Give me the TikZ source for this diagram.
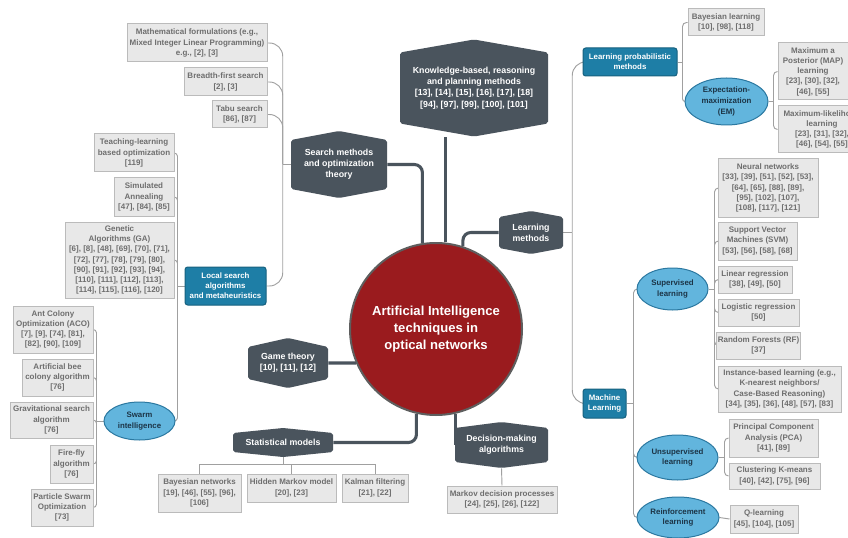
\documentclass[tikz,border=0pt]{standalone}
\usepackage{fontspec}
\setmainfont{Liberation Sans}
\usetikzlibrary{shapes.geometric}
\definecolor{hexc}{HTML}{4A545D}
\definecolor{tealc}{HTML}{1E7EA6}
\definecolor{tealb}{HTML}{17617F}
\definecolor{ellc}{HTML}{62B5DD}
\definecolor{ellb}{HTML}{2B78A0}
\definecolor{elltxt}{HTML}{1C3446}
\definecolor{boxf}{HTML}{E8E8E8}
\definecolor{boxb}{HTML}{BBBBBB}
\definecolor{boxt}{HTML}{6E6E6E}
\definecolor{redc}{HTML}{9A1B1E}
\definecolor{circb}{HTML}{5E5E5E}
\definecolor{linec}{HTML}{A0A0A0}
\pgfdeclarelayer{bg}
\pgfsetlayers{bg,main}
\tikzset{
  sz/.style 2 args={minimum width=#1*0.75pt, minimum height=#2*0.75pt},
  gbox/.style={draw=boxb, fill=boxf, line width=0.75pt, text=boxt, align=center,
    font=\fontsize{6}{7.7}\selectfont\bfseries, inner sep=1pt},
  tbox/.style={draw=tealb, fill=tealc, line width=0.75pt, rounded corners=2pt, text=white,
    align=center, font=\fontsize{5.9}{7.5}\selectfont\bfseries, inner sep=1pt},
  ell/.style={ellipse, draw=ellb, fill=ellc, line width=0.75pt, text=elltxt, align=center,
    font=\fontsize{5.9}{8}\selectfont\bfseries, inner sep=0pt},
  hextxt/.style={text=white, align=center, font=\fontsize{6.6}{8.4}\selectfont\bfseries, inner sep=0pt},
  conn/.style={draw=linec, line width=0.7pt, rounded corners=8pt},
  mainc/.style={draw=hexc, line width=2.3pt, rounded corners=6pt},
}
\newcommand{\hexnode}[7]{%
  \fill[hexc, rounded corners=1.5pt] (#2-#4/2,#3-#5/2+#6) -- (#2,#3-#5/2) -- (#2+#4/2,#3-#5/2+#6)
    -- (#2+#4/2,#3+#5/2-#6) -- (#2,#3+#5/2) -- (#2-#4/2,#3+#5/2-#6) -- cycle;
  \node[hextxt, sz={#4}{#5}] (#1) at (#2,#3) {#7};}
\begin{document}
\begin{tikzpicture}[x=0.75pt,y=-0.75pt]
\useasboundingbox (0,0) rectangle (848,538);
\clip (0,0) rectangle (848,538);

% central circle
\node[circle, fill=redc, draw=circb, line width=1.5pt, minimum size=172*0.75pt, inner sep=0pt,
  text=white, align=center, font=\fontsize{9.8}{12.75}\selectfont\bfseries] (ai) at (436,329)
  {Artificial Intelligence\\techniques in\\optical networks};

% hexagons
\hexnode{know}{474}{88}{148}{97}{13}{Knowledge-based, reasoning\\and planning methods\\{[13], [14], [15], [16], [17], [18]}\\{[94], [97], [99], [100], [101]}}
\hexnode{srch}{339}{164.5}{96}{67}{9}{Search methods\\and optimization\\theory}
\hexnode{lm}{531}{232.5}{64}{43}{6}{Learning\\methods}
\hexnode{gt}{288}{363}{80}{50}{9}{Game theory\\{[10], [11], [12]}}
\hexnode{stat}{283}{442.5}{100}{29}{5}{Statistical models}
\hexnode{dec}{501.5}{445}{93}{46}{6}{Decision-making\\algorithms}

% teal boxes
\node[tbox, sz={81}{38}] (ls) at (225.5,286) {Local search\\algorithms\\and metaheuristics};
\node[tbox, sz={94}{28}] (lpm) at (630,62) {Learning probabilistic\\methods};
\node[tbox, sz={43}{29}] (ml) at (604.5,403.5) {Machine\\Learning};

% ellipses
\node[ell, sz={71}{38}] (swarm) at (139.5,421) {Swarm\\intelligence};
\node[ell, sz={83}{47}] (em) at (726.5,101.5) {Expectation-\\maximization\\(EM)};
\node[ell, sz={71}{42}] (sup) at (672.5,289) {Supervised\\learning};
\node[ell, sz={81}{45}] (uns) at (677.5,457.5) {Unsupervised\\learning};
\node[ell, sz={82}{41}] (rein) at (678,517.5) {Reinforcement\\learning};

% gray boxes
\node[gbox, sz={140}{38}] (math) at (197,43) {Mathematical formulations (e.g.,\\Mixed Integer Linear Programming)\\e.g., [2], [3]};
\node[gbox, sz={83}{28}] (bfs) at (225.5,82) {Breadth-first search\\{[2], [3]}};
\node[gbox, sz={55}{27}] (tabu) at (239.5,114.5) {Tabu search\\{[86], [87]}};
\node[gbox, sz={80}{38}] (tlbo) at (134,153) {Teaching-learning\\based optimization\\{[119]}};
\node[gbox, sz={60}{38}] (sa) at (144,197) {Simulated\\Annealing\\{[47], [84], [85]}};
\node[gbox, sz={109}{76}] (ga) at (119.5,260) {Genetic\\Algorithms (GA)\\{[6], [8], [48], [69], [70], [71],}\\{[72], [77], [78], [79], [80],}\\{[90], [91], [92], [93], [94],}\\{[110], [111], [112], [113],}\\{[114], [115], [116], [120]}};
\node[gbox, sz={80}{47}] (aco) at (53,329.5) {Ant Colony\\Optimization (ACO)\\{[7], [9], [74], [81],}\\{[82], [90], [109]}};
\node[gbox, sz={71}{37}] (abc) at (57.5,377.5) {Artificial bee\\colony algorithm\\{[76]}};
\node[gbox, sz={83}{36}] (gsa) at (51.5,420) {Gravitational search\\algorithm\\{[76]}};
\node[gbox, sz={43}{38}] (ff) at (71.5,464) {Fire-fly\\algorithm\\{[76]}};
\node[gbox, sz={62}{37}] (pso) at (62,507.5) {Particle Swarm\\Optimization\\{[73]}};
\node[gbox, sz={83}{38}] (bn) at (199.5,493) {Bayesian networks\\{[19], [46], [55], [96],}\\{[106]}};
\node[gbox, sz={89}{28}] (hmm) at (291.5,488) {Hidden Markov model\\{[20], [23]}};
\node[gbox, sz={66}{28}] (kf) at (375,488) {Kalman filtering\\{[21], [22]}};
\node[gbox, sz={110}{27}] (mdp) at (502,499.5) {Markov decision processes\\{[24], [25], [26], [122]}};
\node[gbox, sz={76}{27}] (bl) at (726,22.5) {Bayesian learning\\{[10], [98], [118]}};
\node[gbox, sz={70}{57}] (map) at (813,71.5) {Maximum a\\Posterior (MAP)\\learning\\{[23], [30], [32],}\\{[46], [55]}};
\node[gbox, sz={88}{47}] (mle) at (822,129.5) {Maximum-likelihood\\learning\\{[23], [31], [32],}\\{[46], [54], [55]}};
\node[gbox, sz={100}{58}] (nn) at (768,188) {Neural networks\\{[33], [39], [51], [52], [53],}\\{[64], [65], [88], [89],}\\{[95], [102], [107],}\\{[108], [117], [121]}};
\node[gbox, sz={79}{38}] (svm) at (757.5,241) {Support Vector\\Machines (SVM)\\{[53], [56], [58], [68]}};
\node[gbox, sz={74}{27}] (lr) at (755,279.5) {Linear regression\\{[38], [49], [50]}};
\node[gbox, sz={81}{27}] (logr) at (758.5,312.5) {Logistic regression\\{[50]}};
\node[gbox, sz={81}{27}] (rf) at (758.5,345.5) {Random Forests (RF)\\{[37]}};
\node[gbox, sz={123}{46}] (ibl) at (779.5,389) {Instance-based learning (e.g.,\\K-nearest neighbors/\\Case-Based Reasoning)\\{[34], [35], [36], [48], [57], [83]}};
\node[gbox, sz={89}{38}] (pca) at (773.5,438) {Principal Component\\Analysis (PCA)\\{[41], [89]}};
\node[gbox, sz={91}{26}] (clu) at (774.5,476) {Clustering K-means\\{[40], [42], [75], [96]}};
\node[gbox, sz={68}{28}] (ql) at (764,519) {Q-learning\\{[45], [104], [105]}};

\begin{pgfonlayer}{bg}
\fill[white] (0,0) rectangle (848,538);
% main connectors
\draw[mainc] (ai.84) -- (ai.84 |- know.south);
\draw[mainc] (srch.east) -| (ai.99);
\draw[mainc] (lm.west) -| (ai.72);
\draw[mainc] (gt.east) -- (ai.203);
\draw[mainc] (stat.east) -| (ai.257);
\draw[mainc] (ai.283) -- (ai.283 |- dec.center);
% search methods
\draw[conn] (srch.west) -- ++(-8,0) coordinate (srj);
\draw[conn, rounded corners=10pt] (srj) |- (math.east);
\draw[conn, rounded corners=10pt] (srj) |- (bfs.east);
\draw[conn, rounded corners=10pt] (srj) |- (tabu.east);
\draw[conn, rounded corners=10pt] (srj) |- (ls.east);
% local search
\draw[conn] (ls.west) -- ++(-7,0) coordinate (lsj);
\draw[conn, rounded corners=2.5pt] (lsj) |- (tlbo.east);
\draw[conn, rounded corners=2.5pt] (lsj) |- (sa.east);
\draw[conn, rounded corners=2.5pt] (lsj) |- (ga.east);
\draw[conn, rounded corners=2.5pt] (lsj) |- (swarm.east);
% swarm
\draw[conn] (swarm.west) -- ++(-7,0) coordinate (swj);
\draw[conn, rounded corners=2.5pt] (swj) |- (aco.east);
\draw[conn, rounded corners=2.5pt] (swj) |- (abc.east);
\draw[conn, rounded corners=2.5pt] (swj) |- (gsa.east);
\draw[conn, rounded corners=2.5pt] (swj) |- (ff.east);
\draw[conn, rounded corners=2.5pt] (swj) |- (pso.east);
% statistical models
\draw[conn] (stat.south) -- ++(0,7) coordinate (sbar);
\draw[conn, sharp corners] (bn.north) |- (sbar) -| (kf.north);
\draw[conn] (hmm.north) -- (hmm.north |- sbar);
% decision
\draw[conn] (dec.south) -- (mdp.north);
% learning methods
\draw[conn] (lm.east) -- ++(9,0) coordinate (lmj);
\draw[conn, rounded corners=10pt] (lmj) |- (lpm.west);
\draw[conn, rounded corners=10pt] (lmj) |- (ml.west);
\draw[conn] (lpm.east) -- ++(5,0) coordinate (lpj);
\draw[conn, rounded corners=3pt] (lpj) |- (bl.west);
\draw[conn, rounded corners=2pt] (lpj) |- (em.west);
\draw[conn] (em.east) -- ++(5,0) coordinate (emj);
\draw[conn, rounded corners=3pt] (emj) |- (map.west);
\draw[conn, rounded corners=3pt] (emj) |- (mle.west);
\draw[conn] (ml.east) -- ++(7,0) coordinate (mlj);
\draw[conn, rounded corners=3pt] (mlj) |- (sup.west);
\draw[conn, rounded corners=3pt] (mlj) |- (uns.west);
\draw[conn, rounded corners=3pt] (mlj) |- (rein.west);
\draw[conn] (sup.east) -- ++(6,0) coordinate (supj);
\draw[conn, rounded corners=3pt] (supj) |- (nn.west);
\draw[conn, rounded corners=3pt] (supj) |- (svm.west);
\draw[conn, rounded corners=3pt] (supj) |- (lr.west);
\draw[conn, rounded corners=3pt] (supj) |- (logr.west);
\draw[conn, rounded corners=3pt] (supj) |- (rf.west);
\draw[conn, rounded corners=3pt] (supj) |- (ibl.west);
\draw[conn] (uns.east) -- ++(6,0) coordinate (unj);
\draw[conn, rounded corners=3pt] (unj) |- (pca.west);
\draw[conn, rounded corners=3pt] (unj) |- (clu.west);
\draw[conn] (rein.east) -- (ql.west);
\end{pgfonlayer}
\end{tikzpicture}
\end{document}
